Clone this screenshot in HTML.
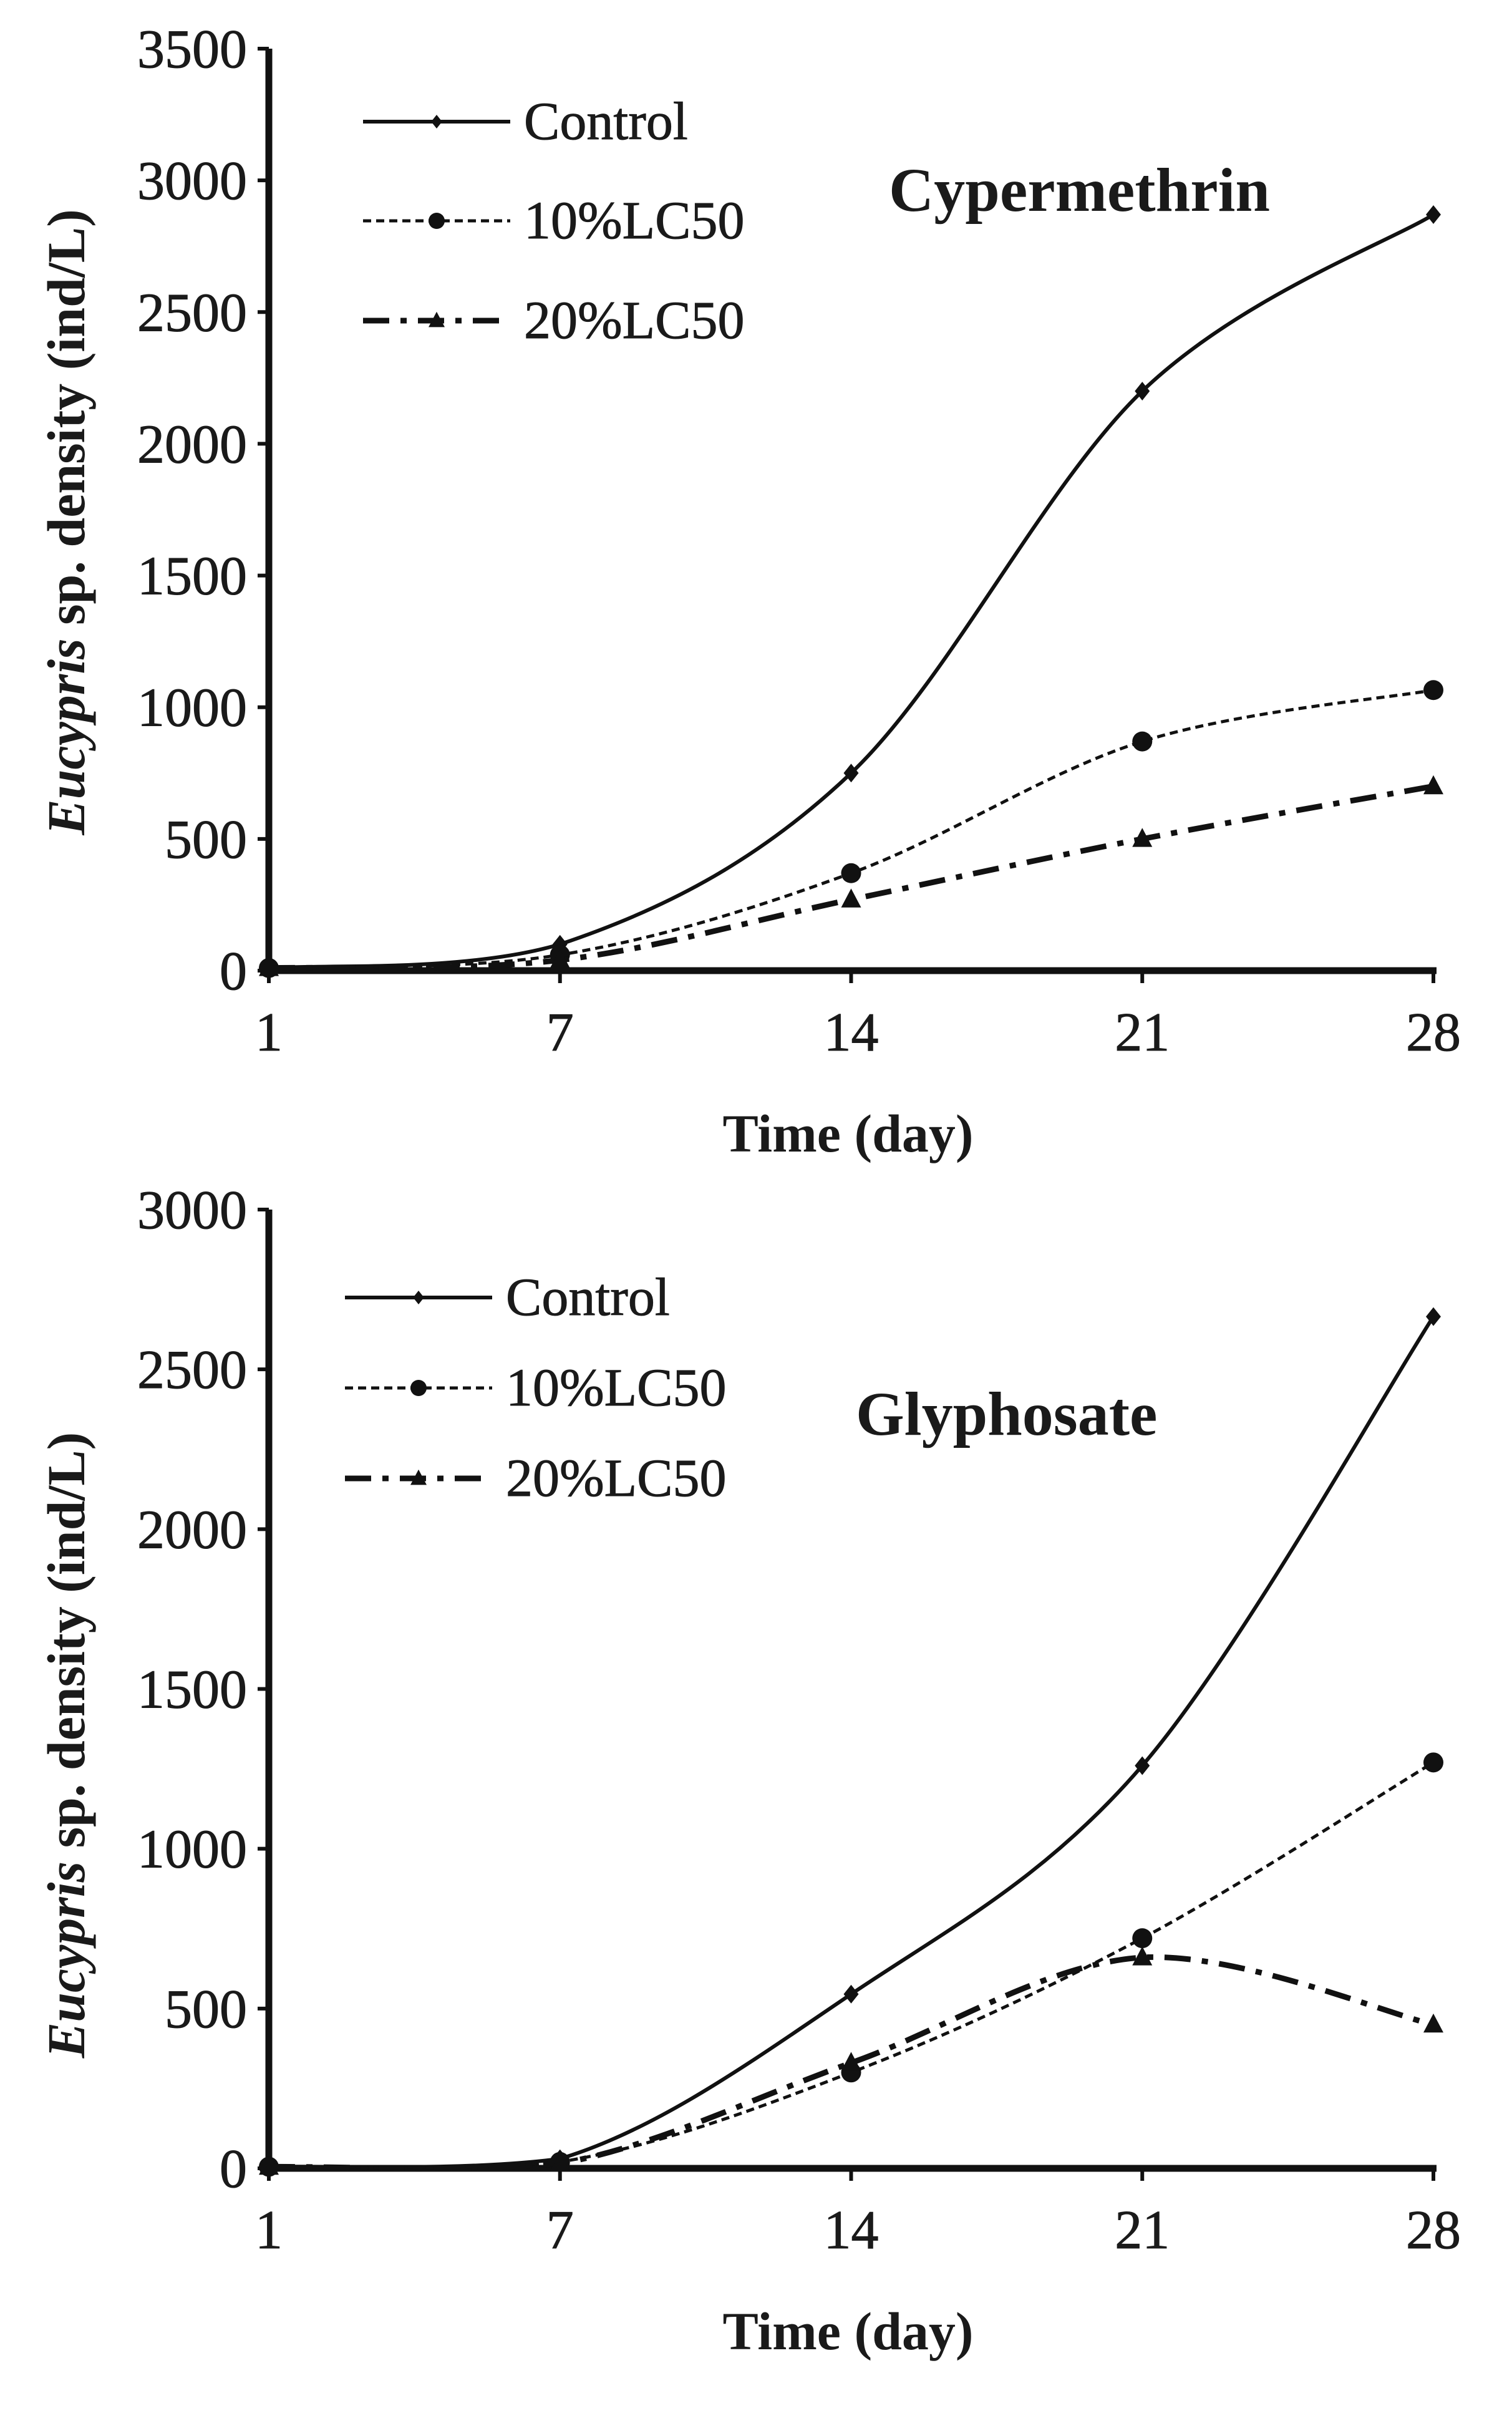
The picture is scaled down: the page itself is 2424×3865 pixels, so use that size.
<!DOCTYPE html>
<html><head><meta charset="utf-8"><style>
html,body{margin:0;padding:0;background:#fff}
svg{display:block}
text{font-family:"Liberation Serif",serif;fill:#1a1a1a}
</style></head><body>
<svg id="chart" width="2424" height="3865" viewBox="0 0 2424 3865"></svg>
<script>
const categories = ["1","7","14","21","28"];
const seriesNames = ["Control","10%LC50","20%LC50"];
const cypControl = [10,100,750,2200,2870];
const cyp10 = [10,60,370,870,1065];
const cyp20 = [10,40,270,500,700];
const glyControl = [5,30,545,1260,2665];
const gly10 = [5,20,300,720,1270];
const gly20 = [5,15,330,660,450];
const cypTicks = [0,500,1000,1500,2000,2500,3000,3500];
const glyTicks = [0,500,1000,1500,2000,2500,3000];

const NS="http://www.w3.org/2000/svg";
const svg=document.getElementById('chart');
function mk(tag,attrs,parent){const e=document.createElementNS(NS,tag);for(const k in attrs)e.setAttribute(k,attrs[k]);(parent||svg).appendChild(e);return e;}

function smoothPath(pts){
  let d="M"+pts[0][0]+","+pts[0][1];
  for(let i=0;i<pts.length-1;i++){
    const p0=pts[Math.max(0,i-1)],p1=pts[i],p2=pts[i+1],p3=pts[Math.min(pts.length-1,i+2)];
    const t=1/6;
    const lo=Math.min(p1[1],p2[1]),hi=Math.max(p1[1],p2[1]);
    const cl=v=>Math.max(lo-8,Math.min(hi+8,v));
    const c1=[p1[0]+(p2[0]-p0[0])*t,cl(p1[1]+(p2[1]-p0[1])*t)];
    const c2=[p2[0]-(p3[0]-p1[0])*t,cl(p2[1]-(p3[1]-p1[1])*t)];
    d+=` C${c1[0]},${c1[1]} ${c2[0]},${c2[1]} ${p2[0]},${p2[1]}`;
  }
  return d;
}
const styles=[{dash:"",marker:"diamond",w:6},{dash:"13,8",marker:"circle",w:5},{dash:"42,18,10,18",marker:"triangle",w:9}];
function marker(g,type,x,y,s){
  let m;
  if(type==="diamond")m=mk('polygon',{points:`${x},${y-s} ${x+s*0.8},${y} ${x},${y+s} ${x-s*0.8},${y}`,fill:"#111"},g);
  else if(type==="circle")m=mk('circle',{cx:x,cy:y,r:s,fill:"#111"},g);
  else m=mk('polygon',{points:`${x},${y-s*1.1} ${x+s},${y+s*0.8} ${x-s},${y+s*0.8}`,fill:"#111"},g);
  return m;
}

function drawChart(cfg){
  const g=mk('g',{});
  
  
  const x0=431,x1=2298,y0=cfg.y0,yTop=cfg.yTop,maxV=cfg.ticks[cfg.ticks.length-1];
  const xs=i=>x0+(x1-x0)*i/(categories.length-1);
  const ys=v=>y0-(y0-yTop)*v/maxV;
  const ya=mk('line',{x1:x0,y1:yTop,x2:x0,y2:y0+5,stroke:"#111","stroke-width":11},g);
  
  const xa=mk('line',{x1:x0-5,y1:y0,x2:x1+5,y2:y0,stroke:"#111","stroke-width":11},g);
  
  cfg.ticks.forEach(v=>{
    const y=ys(v);
    mk('line',{x1:x0-18,y1:y,x2:x0,y2:y,stroke:"#111","stroke-width":6},g);
    const t=mk('text',{x:x0-35,y:y+30,"text-anchor":"end","font-size":88,stroke:"#1a1a1a","stroke-width":1},g);
    t.textContent=v;
    
  });
  categories.forEach((c,i)=>{
    const x=xs(i);
    mk('line',{x1:x,y1:y0,x2:x,y2:y0+20,stroke:"#111","stroke-width":6},g);
    const t=mk('text',{x:x,y:y0+128,"text-anchor":"middle","font-size":88,stroke:"#1a1a1a","stroke-width":1},g);
    t.textContent=c;
    
  });
  cfg.series.forEach((vals,si)=>{
    const pts=vals.map((v,i)=>[xs(i),ys(v)]);
    const sg=mk('g',{},g);
    
    
    mk('path',{d:smoothPath(pts),fill:"none",stroke:"#111","stroke-width":styles[si].w,"stroke-dasharray":styles[si].dash},sg);
    pts.forEach(p=>{const m=marker(sg,styles[si].marker,p[0],p[1],si===0?15:16);
      });
  });
  seriesNames.forEach((n,si)=>{
    const ly=cfg.legY[si];
    const lg=mk('g',{},g);
    
    mk('line',{x1:cfg.legX,y1:ly,x2:cfg.legX+236,y2:ly,stroke:"#111","stroke-width":styles[si].w,"stroke-dasharray":styles[si].dash},lg);
    marker(lg,styles[si].marker,cfg.legX+118,ly,si===0?11:13);
    const t=mk('text',{x:cfg.legX+258,y:ly+28,"font-size":86,stroke:"#1a1a1a","stroke-width":1},lg);
    t.textContent=n;
  });
  const ti=mk('text',{x:cfg.titleX,y:cfg.titleY,"font-size":100,"font-weight":"bold"},g);
  ti.textContent=cfg.title;
  
  const xt=mk('text',{x:(x0+x1)/2-5,y:y0+290,"text-anchor":"middle","font-size":86,"font-weight":"bold"},g);
  xt.textContent="Time (day)";
  
  const cy=(y0+yTop)/2+ (cfg.name==='cyp'?20:90);
  const yt=mk('text',{x:0,y:0,"text-anchor":"middle","font-size":86,"font-weight":"bold",transform:`translate(135,${cy}) rotate(-90)`},g);
  yt.innerHTML='<tspan font-style="italic">Eucypris</tspan> sp. density (ind/L)';
  
}
drawChart({name:'cyp',y0:1556,yTop:78,ticks:cypTicks,series:[cypControl,cyp10,cyp20],legX:582,legY:[195,354,514],title:"Cypermethrin",titleX:1425,titleY:338});
drawChart({name:'gly',y0:3476,yTop:1939,ticks:glyTicks,series:[glyControl,gly10,gly20],legX:553,legY:[2080,2225,2370],title:"Glyphosate",titleX:1372,titleY:2300});
</script>
</body></html>
